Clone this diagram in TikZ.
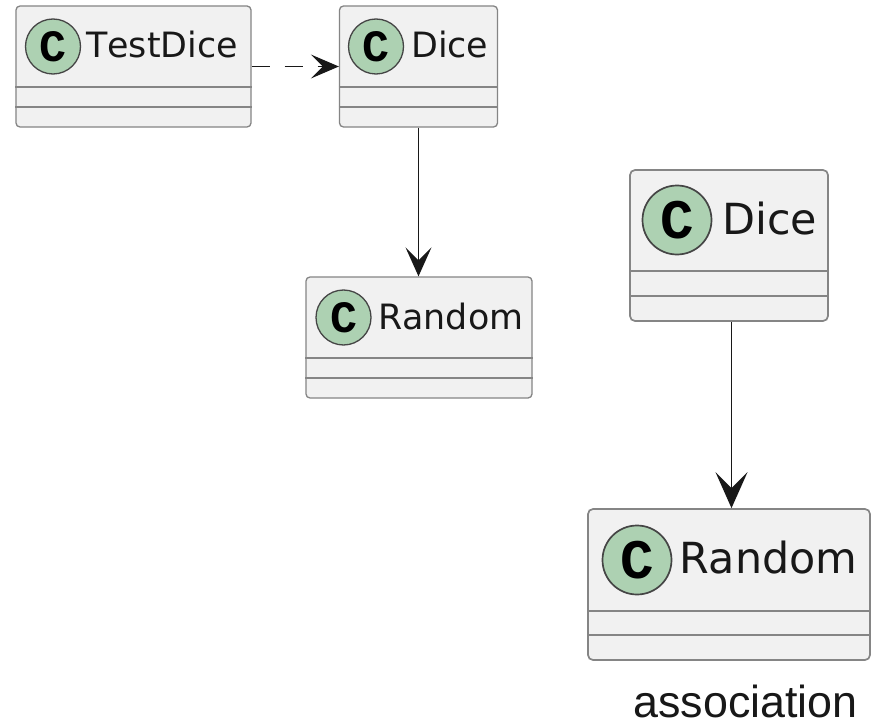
\documentclass[tikz,border=0pt]{standalone}
\usepackage{fontspec}
\setmainfont{DejaVu Sans}[Kerning=Off]
\newfontfamily\labelfont{Liberation Sans}
\newfontfamily\badgefont{Liberation Mono}
\usetikzlibrary{arrows.meta}
\definecolor{boxfill}{HTML}{F1F1F1}
\definecolor{boxline}{HTML}{858585}
\definecolor{cfill}{HTML}{ADD1B2}
\definecolor{cline}{HTML}{454545}
\definecolor{ink}{HTML}{181818}
\tikzset{
  smallclass/.style={rectangle, draw=boxline, fill=boxfill, line width=1.3bp, rounded corners=4bp, inner sep=0pt},
  bigclass/.style={rectangle, draw=boxline, fill=boxfill, line width=1.7bp, rounded corners=5bp, inner sep=0pt},
  smallsep/.style={draw=boxline, line width=1.3bp},
  bigsep/.style={draw=boxline, line width=1.7bp},
  smallbadge/.style={circle, draw=cline, fill=cfill, line width=1.3bp, minimum size=55bp, inner sep=0pt,
    font=\badgefont\bfseries\fontsize{45}{45}\selectfont},
  bigbadge/.style={circle, draw=cline, fill=cfill, line width=1.7bp, minimum size=69bp, inner sep=0pt,
    font=\badgefont\bfseries\fontsize{56}{56}\selectfont},
  smalltitle/.style={anchor=base west, inner sep=0pt, text=ink, font=\fontsize{35}{35}\selectfont},
  bigtitle/.style={anchor=base west, inner sep=0pt, text=ink, font=\fontsize{43}{43}\selectfont},
  deparrow/.style={draw=ink, line width=1.3bp, dash pattern=on 18bp off 15bp,
    -{Stealth[length=28bp,width=24bp,inset=12bp,fill=ink]}},
  smallassoc/.style={draw=ink, line width=1.3bp, -{Stealth[length=29bp,width=26bp,inset=13bp,fill=ink]}},
  bigassoc/.style={draw=ink, line width=1.7bp, -{Stealth[length=36bp,width=32bp,inset=16bp,fill=ink]}},
}
\begin{document}
\begin{tikzpicture}[x=1bp,y=-1bp]
\useasboundingbox[fill=white] (0,0) rectangle (875,725);

% left: TestDice
\node[smallclass, minimum width=235bp, minimum height=121bp] (testdice) at (133.5,66.5) {};
\draw[smallsep] (testdice.west |- 0,87) -- (testdice.east |- 0,87);
\draw[smallsep] (testdice.west |- 0,107) -- (testdice.east |- 0,107);
\node[smallbadge] (testdiceC) at (53,46.5) {C};
\node[smalltitle] (testdiceT) at (86,58) {TestDice};

% left: Dice
\node[smallclass, minimum width=158bp, minimum height=121bp] (dice1) at (418.5,66.5) {};
\draw[smallsep] (dice1.west |- 0,87) -- (dice1.east |- 0,87);
\draw[smallsep] (dice1.west |- 0,107) -- (dice1.east |- 0,107);
\node[smallbadge] (dice1C) at (376,46.5) {C};
\node[smalltitle] (dice1T) at (411,58) {Dice};

% left: Random
\node[smallclass, minimum width=226bp, minimum height=121bp] (random1) at (419,337.5) {};
\draw[smallsep] (random1.west |- 0,358) -- (random1.east |- 0,358);
\draw[smallsep] (random1.west |- 0,378) -- (random1.east |- 0,378);
\node[smallbadge] (random1C) at (343.5,317.5) {C};
\node[smalltitle] (random1T) at (378,329) {Random};

% right: Dice
\node[bigclass, minimum width=198bp, minimum height=151bp] (dice2) at (729,245.5) {};
\draw[bigsep] (dice2.west |- 0,271) -- (dice2.east |- 0,271);
\draw[bigsep] (dice2.west |- 0,296) -- (dice2.east |- 0,296);
\node[bigbadge] (dice2C) at (677,220) {C};
\node[bigtitle] (dice2T) at (722,234) {Dice};

% right: Random
\node[bigclass, minimum width=282bp, minimum height=151bp] (random2) at (729,584.5) {};
\draw[bigsep] (random2.west |- 0,611) -- (random2.east |- 0,611);
\draw[bigsep] (random2.west |- 0,635) -- (random2.east |- 0,635);
\node[bigbadge] (random2C) at (637,560) {C};
\node[bigtitle] (random2T) at (679,573) {Random};

% connectors
\draw[deparrow] (testdice.east) -- (dice1.west);
\draw[smallassoc] (dice1.south) -- (dice1.south |- random1.north);
\draw[bigassoc] ([xshift=2.5bp]dice2.south) -- ([xshift=2.5bp]random2.north);

% caption
\node[anchor=base, inner sep=0pt, text=ink, font=\labelfont\fontsize{45}{45}\selectfont] (caption) at (745.5,717) {association};
\end{tikzpicture}
\end{document}
